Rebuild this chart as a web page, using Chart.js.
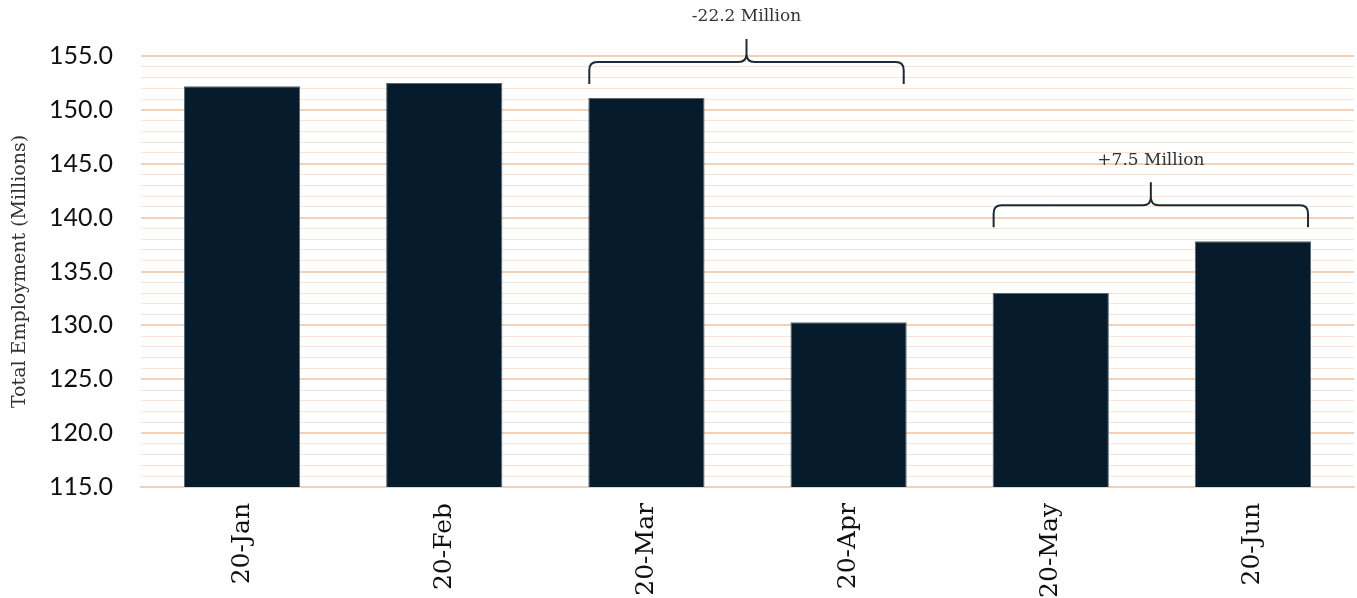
<!DOCTYPE html>
<html>
<head>
<meta charset="utf-8">
<script src="https://cdn.jsdelivr.net/npm/chart.js@4/dist/chart.umd.min.js"></script>
<style>
    html, body { margin: 0; padding: 0; background: #ffffff; }
    #wrap { width: 1357px; height: 598px; }
</style>
</head>
<body>
<div id="wrap"><canvas id="barChart" width="1357" height="598"></canvas></div>
<script>
const bulanLabels = ["20-Jan", "20-Feb", "20-Mar", "20-Apr", "20-May", "20-Jun"];

const employmentData = [152.2, 152.5, 151.1, 130.3, 133.0, 137.8];

const yTicksMin = 115;
const yTicksMax = 155;

// brace notes: first and last category index, text
const braceFrom = [2, 4];
const braceTo = [3, 5];
const braceText = ["-22.2 Million", "+7.5 Million"];

const bracePlugin = {
    id: "braces",
    afterDatasetsDraw(chart) {
        const ctx = chart.ctx;
        const bars = chart.getDatasetMeta(0).data;

        for (let i = 0; i < braceText.length; i++) {
            const a = bars[braceFrom[i]];
            const b = bars[braceTo[i]];
            const left = a.x - a.width / 2 + 1;
            const right = b.x + b.width / 2 - 3;
            let top = Math.min(a.y, b.y);
            for (let k = braceFrom[i]; k <= braceTo[i]; k++) {
                top = Math.min(top, bars[k].y);
            }
            const ends = top - 14;
            const mid = ends - 22;
            const tip = mid - 23;
            const cx = (left + right) / 2;
            const r = 8;

            ctx.save();
            ctx.strokeStyle = "#1f2a33";
            ctx.lineWidth = 2;
            ctx.beginPath();
            ctx.moveTo(left, ends);
            ctx.lineTo(left, mid + r);
            ctx.quadraticCurveTo(left, mid, left + r, mid);
            ctx.lineTo(cx - r, mid);
            ctx.quadraticCurveTo(cx, mid, cx, mid - r);
            ctx.lineTo(cx, tip);
            ctx.moveTo(cx, mid - r);
            ctx.quadraticCurveTo(cx, mid, cx + r, mid);
            ctx.lineTo(right - r, mid);
            ctx.quadraticCurveTo(right, mid, right, mid + r);
            ctx.lineTo(right, ends);
            ctx.stroke();

            ctx.fillStyle = "#333333";
            ctx.font = "17px 'DejaVu Serif'";
            ctx.textAlign = "center";
            ctx.textBaseline = "middle";
            ctx.fillText(braceText[i], cx, tip - 22);
            ctx.restore();
        }
    }
};

new Chart(
    document.getElementById("barChart"),
    {
        type: "bar",

        data: {
            labels: bulanLabels,

            datasets: [{
                label: "Total Employment",
                data: employmentData,
                backgroundColor: "#061b2b",
                borderColor: "#5a6670",
                borderWidth: 1,
                categoryPercentage: 1,
                barPercentage: 0.575
            }]
        },

        options: {
            responsive: false,
            animation: false,
            layout: {
                padding: { top: 56, right: 3, left: 0, bottom: 0 }
            },
            plugins: {
                legend: { display: false },
                tooltip: { enabled: false }
            },
            scales: {
                x: {
                    grid: { display: false },
                    border: { color: "#f0d2bc", width: 2 },
                    ticks: {
                        color: "#111111",
                        font: { family: "'DejaVu Serif'", size: 25 },
                        minRotation: 90,
                        maxRotation: 90,
                        padding: 8
                    },
                    afterFit(scale) {
                        scale.height = 111;
                    }
                },
                y: {
                    min: yTicksMin,
                    max: yTicksMax,
                    border: { display: false },
                    grid: {
                        drawTicks: false,
                        color(c) {
                            return c.tick.value % 5 === 0 ? "#f2d1b8" : "#f8e4d6";
                        },
                        lineWidth(c) {
                            return c.tick.value % 5 === 0 ? 2 : 1;
                        }
                    },
                    ticks: {
                        stepSize: 1,
                        autoSkip: false,
                        padding: 28,
                        color: "#111111",
                        font: { family: "Lato", size: 25 },
                        callback(value) {
                            return value % 5 === 0 ? value.toFixed(1) : "";
                        }
                    },
                    title: {
                        display: true,
                        text: "Total Employment (Millions)",
                        color: "#333333",
                        font: { family: "'DejaVu Serif'", size: 19 },
                        padding: { top: 9, bottom: 4 }
                    },
                    afterFit(scale) {
                        scale.width = 141;
                    }
                }
            }
        },

        plugins: [bracePlugin]
    }
);
</script>
</body>
</html>
